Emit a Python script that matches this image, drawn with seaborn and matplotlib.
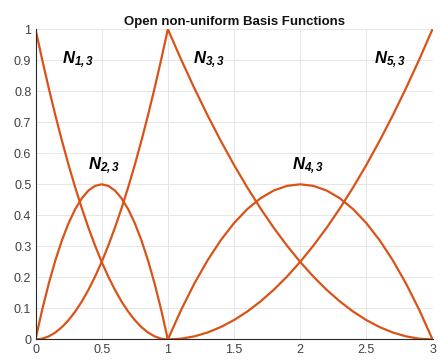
import matplotlib
matplotlib.use("Agg")
import matplotlib.pyplot as plt
import seaborn as sns
import pandas as pd

# Parameter values on the two knot spans
t_first = [0.00, 0.05, 0.10, 0.15, 0.20, 0.25, 0.30, 0.35, 0.40, 0.45, 0.50,
           0.55, 0.60, 0.65, 0.70, 0.75, 0.80, 0.85, 0.90, 0.95, 1.00]
t_second = [1.0, 1.1, 1.2, 1.3, 1.4, 1.5, 1.6, 1.7, 1.8, 1.9, 2.0,
            2.1, 2.2, 2.3, 2.4, 2.5, 2.6, 2.7, 2.8, 2.9, 3.0]

# Basis function values on [0, 1]
n13 = [1.0, 0.9025, 0.81, 0.7225, 0.64, 0.5625, 0.49, 0.4225, 0.36, 0.3025, 0.25,
       0.2025, 0.16, 0.1225, 0.09, 0.0625, 0.04, 0.0225, 0.01, 0.0025, 0.0]
n23 = [0.0, 0.095, 0.18, 0.255, 0.32, 0.375, 0.42, 0.455, 0.48, 0.495, 0.5,
       0.495, 0.48, 0.455, 0.42, 0.375, 0.32, 0.255, 0.18, 0.095, 0.0]
n33_first = [0.0, 0.0025, 0.01, 0.0225, 0.04, 0.0625, 0.09, 0.1225, 0.16, 0.2025, 0.25,
             0.3025, 0.36, 0.4225, 0.49, 0.5625, 0.64, 0.7225, 0.81, 0.9025, 1.0]

# Basis function values on [1, 3]
n33_second = [1.0, 0.9025, 0.81, 0.7225, 0.64, 0.5625, 0.49, 0.4225, 0.36, 0.3025, 0.25,
              0.2025, 0.16, 0.1225, 0.09, 0.0625, 0.04, 0.0225, 0.01, 0.0025, 0.0]
n43 = [0.0, 0.095, 0.18, 0.255, 0.32, 0.375, 0.42, 0.455, 0.48, 0.495, 0.5,
       0.495, 0.48, 0.455, 0.42, 0.375, 0.32, 0.255, 0.18, 0.095, 0.0]
n53 = [0.0, 0.0025, 0.01, 0.0225, 0.04, 0.0625, 0.09, 0.1225, 0.16, 0.2025, 0.25,
       0.3025, 0.36, 0.4225, 0.49, 0.5625, 0.64, 0.7225, 0.81, 0.9025, 1.0]

labels = ["1,3", "2,3", "3,3", "4,3", "5,3"]
label_x = [0.20, 0.40, 1.19, 1.94, 2.56]
label_y = [0.90, 0.56, 0.90, 0.56, 0.90]

x_ticks = [0, 0.5, 1, 1.5, 2, 2.5, 3]
x_tick_labels = ["0", "0.5", "1", "1.5", "2", "2.5", "3"]
y_ticks = [0, 0.1, 0.2, 0.3, 0.4, 0.5, 0.6, 0.7, 0.8, 0.9, 1]
y_tick_labels = ["0", "0.1", "0.2", "0.3", "0.4", "0.5", "0.6", "0.7", "0.8", "0.9", "1"]

curves = [
    ("N1", t_first, n13),
    ("N2", t_first, n23),
    ("N3", t_first + t_second[1:], n33_first + n33_second[1:]),
    ("N4", t_second, n43),
    ("N5", t_second, n53),
]
frames = [pd.DataFrame({"t": xs, "value": ys, "basis": name}) for name, xs, ys in curves]
df = pd.concat(frames, ignore_index=True)

sns.set_style("whitegrid")
plt.rcParams["font.family"] = ["Liberation Sans", "DejaVu Sans"]
plt.rcParams["mathtext.fontset"] = "custom"
plt.rcParams["mathtext.it"] = "Liberation Sans:italic:bold"
plt.rcParams["mathtext.rm"] = "Liberation Sans:italic:bold"
plt.rcParams["mathtext.bf"] = "Liberation Sans:italic:bold"

line_color = "#D95319"

fig = plt.figure(figsize=(4.4, 3.6), dpi=100)
ax = fig.add_axes([0.0807, 0.057, 0.9023, 0.862])

sns.lineplot(data=df, x="t", y="value", units="basis", estimator=None,
             sort=False, color=line_color, linewidth=1.6, ax=ax, legend=False)

ax.set_xlim(0, 3)
ax.set_ylim(0, 1)
ax.set_xticks(x_ticks)
ax.set_xticklabels(x_tick_labels)
ax.set_yticks(y_ticks)
ax.set_yticklabels(y_tick_labels)
ax.set_xlabel("")
ax.set_ylabel("")
ax.tick_params(axis="both", length=0, labelsize=9, colors="#404040", pad=3)
ax.grid(True, color="#e6e6e6", linewidth=0.7)
for side in ["top", "right"]:
    ax.spines[side].set_visible(False)
for side in ["left", "bottom"]:
    ax.spines[side].set_color("#262626")
    ax.spines[side].set_linewidth(0.8)

ax.set_title("Open non-uniform Basis Functions", fontsize=9.5, fontweight="bold",
             color="#111111", pad=3)

for lab, lx, ly in zip(labels, label_x, label_y):
    ax.text(lx, ly, r"$\mathit{N_{%s}}$" % lab, fontsize=12, color="black",
            ha="left", va="center")

fig.savefig("out.png", dpi=100)
